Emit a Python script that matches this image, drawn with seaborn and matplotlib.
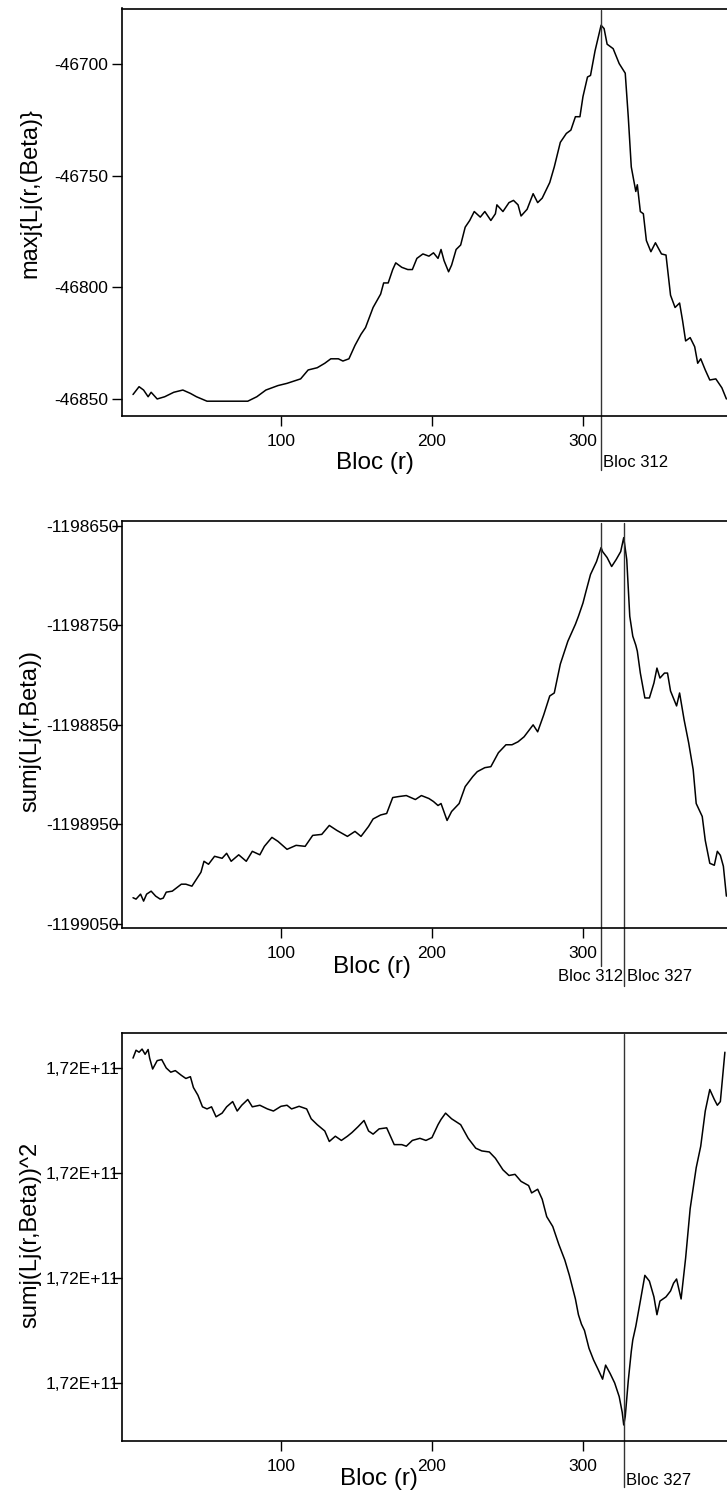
import numpy as np
import pandas as pd
import seaborn as sns
import matplotlib
matplotlib.use("Agg")
import matplotlib.pyplot as plt
from matplotlib.ticker import FuncFormatter
import matplotlib.transforms as mtransforms

# ---------------- data ----------------
r_max = [2, 6, 9, 12, 14, 18, 23, 29, 35, 40, 44, 51, 78, 84, 90, 98, 104, 113, 118, 124,
         129, 133, 138, 141, 145, 149, 153, 156, 161, 166, 168, 171, 174, 176, 180, 184, 187, 190, 194, 198,
         201, 204, 206, 208, 211, 213, 216, 219, 222, 225, 228, 232, 235, 239, 242, 243, 247, 251, 254, 257,
         259, 263, 267, 270, 273, 278, 281, 285, 289, 292, 295, 298, 300, 303, 305, 308, 312, 314, 316, 320,
         324, 328, 330, 332, 335, 336, 338, 340, 342, 345, 348, 352, 355, 358, 361, 364, 366, 368, 371, 374,
         376, 378, 381, 384, 388, 390, 392, 395]
max_lj = [-46848, -46844.5, -46846, -46849, -46847, -46850, -46849, -46847, -46846, -46847.5,
          -46849, -46851, -46851, -46849, -46846, -46844, -46843, -46841, -46837, -46836,
          -46834, -46832, -46832, -46833, -46832, -46826, -46821, -46818, -46809, -46803,
          -46798, -46798, -46792, -46789, -46791, -46792, -46792, -46787, -46785, -46786,
          -46784.5, -46787, -46783, -46788, -46793, -46790, -46783, -46781, -46773, -46770,
          -46766, -46768.5, -46766, -46770, -46767, -46763, -46766, -46762, -46761, -46763,
          -46768, -46765, -46758, -46762, -46760, -46753, -46746, -46735, -46731, -46729.5,
          -46723.5, -46723.5, -46714.5, -46705.7, -46705, -46694, -46682.5, -46684, -46691, -46693,
          -46699.7, -46704, -46723.5, -46746, -46757, -46754, -46766, -46767, -46779, -46784,
          -46780, -46785, -46785.5, -46803.5, -46809, -46807, -46815, -46824, -46822.5, -46826.6,
          -46834, -46832, -46837, -46841.5, -46841, -46843, -46845, -46850]

r_sum = [2, 4, 7, 9, 11, 14, 17, 20, 22, 24, 28, 31, 34, 37, 41, 44, 47, 49, 52, 56,
         61, 64, 67, 72, 77, 81, 86, 89, 94, 98, 104, 110, 116, 121, 127, 132, 137, 144, 149, 153,
         158, 161, 166, 170, 174, 178, 183, 189, 193, 198, 201, 204, 206, 210, 213, 218, 222, 227, 230, 235,
         239, 244, 249, 253, 257, 261, 267, 270, 274, 278, 281, 285, 290, 295, 297, 300, 302, 305, 309, 312,
         313, 316, 319, 322, 325, 327, 329, 331, 333, 335, 336, 338, 341, 344, 347, 349, 351, 354, 356, 358,
         362, 364, 367, 370, 373, 375, 379, 381, 384, 387, 389, 391, 393, 395]
sum_lj = [-1199023.6, -1199025, -1199020, -1199027, -1199020, -1199017, -1199022, -1199025, -1199024, -1199018,
          -1199017, -1199013.5, -1199010, -1199010, -1199012, -1199005, -1198998, -1198987, -1198990, -1198982,
          -1198984, -1198979, -1198987, -1198980.5, -1198987, -1198977, -1198980.5, -1198972, -1198963, -1198967,
          -1198975, -1198971, -1198972, -1198961, -1198960, -1198951, -1198956, -1198962, -1198957, -1198962,
          -1198952, -1198944.5, -1198940.5, -1198939, -1198923, -1198922, -1198921, -1198925, -1198921, -1198924,
          -1198927, -1198931, -1198929, -1198946, -1198937, -1198929, -1198912, -1198902, -1198897, -1198893,
          -1198892, -1198878, -1198870, -1198870, -1198867, -1198862, -1198850, -1198857, -1198840, -1198821,
          -1198818, -1198789, -1198766, -1198749, -1198741, -1198727.7, -1198716, -1198699, -1198686, -1198672,
          -1198676, -1198682, -1198691, -1198684, -1198676, -1198662, -1198684, -1198741, -1198761, -1198770,
          -1198776, -1198798, -1198823, -1198823, -1198808, -1198793, -1198803, -1198798, -1198798, -1198816,
          -1198831, -1198818, -1198845, -1198868, -1198895, -1198929, -1198942, -1198966, -1198989, -1198991,
          -1198977, -1198981, -1198992, -1199022]

r_sq = [2, 4, 6, 8, 10, 12, 13, 15, 18, 21, 24, 27, 30, 34, 37, 40, 42, 45, 48, 51,
        54, 57, 61, 64, 68, 71, 74, 78, 81, 86, 91, 95, 100, 104, 107, 112, 117, 120, 124, 129,
        132, 136, 140, 144, 147, 151, 155, 158, 161, 165, 170, 175, 180, 183, 187, 192, 196, 200, 204, 206,
        209, 213, 219, 224, 229, 233, 238, 242, 247, 251, 255, 259, 264, 266, 270, 273, 276, 280, 284, 288,
        291, 295, 297, 299, 301, 304, 307, 310, 313, 315, 318, 321, 324, 326, 327, 328, 330, 332, 333, 335,
        338, 341, 344, 347, 349, 351, 355, 358, 360, 362, 365, 368, 371, 375, 378, 381, 384, 387, 389, 391,
        394]
sum_sq = [172000409400, 172000416900, 172000415000, 172000418000, 172000413000, 172000417600, 172000409400, 172000399000, 172000407000, 172000408000,
          172000400000, 172000396000, 172000397500, 172000393000, 172000390000, 172000391700, 172000381400, 172000374000, 172000363000, 172000361000,
          172000363000, 172000353500, 172000357000, 172000363000, 172000368000, 172000359000, 172000364500, 172000370000, 172000363000, 172000364500,
          172000361000, 172000359000, 172000363500, 172000364500, 172000361000, 172000363500, 172000361000, 172000351600, 172000346000, 172000340000,
          172000330000, 172000335000, 172000331000, 172000335000, 172000338500, 172000344000, 172000350000, 172000340000, 172000337000, 172000342000,
          172000343000, 172000327000, 172000327000, 172000325500, 172000331000, 172000333000, 172000331000, 172000333700, 172000346000, 172000351000,
          172000357000, 172000351600, 172000346000, 172000333000, 172000323600, 172000321000, 172000320000, 172000314000, 172000303000, 172000297600,
          172000298700, 172000292000, 172000288000, 172000281000, 172000284500, 172000275000, 172000258400, 172000249000, 172000232000, 172000217000,
          172000202500, 172000180000, 172000165000, 172000156000, 172000150000, 172000133000, 172000122000, 172000113000, 172000103600, 172000117000,
          172000109000, 172000100000, 172000087000, 172000072000, 172000060000, 172000068000, 172000102000, 172000130000, 172000141000, 172000154000,
          172000178000, 172000202500, 172000197000, 172000182000, 172000165000, 172000178000, 172000182000, 172000187600, 172000195000, 172000199000,
          172000180000, 172000219000, 172000266000, 172000305000, 172000325500, 172000359000, 172000379500, 172000370000, 172000364500, 172000368000,
          172000415000]

x_ticks = [100, 200, 300]
yticks_max = [-46700, -46750, -46800, -46850]
yticks_sum = [-1198650, -1198750, -1198850, -1198950, -1199050]
yticks_sq = [172000400000, 172000300000, 172000200000, 172000100000]

ylabel_max = "maxj{Lj(r,(Beta)}"
ylabel_sum = "sumj(Lj(r,Beta))"
ylabel_sq = "sumj(Lj(r,Beta))^2"
xlabel = "Bloc (r)"

# ---------------- style ----------------
sns.set_theme(style="white")
plt.rcParams["font.family"] = ["Liberation Sans", "DejaVu Sans"]

W, H = 727, 1493
fig = plt.figure(figsize=(W / 100, H / 100), dpi=100)

def px_axes(top, bottom, left=122, right=727):
    return [left / W, 1 - bottom / H, (right - left) / W, (bottom - top) / H]

def fmt_int(v, pos):
    return f"{v:.0f}"

def fmt_sci(v, pos):
    return f"{v:.2E}".replace(".", ",")

panels = [
    dict(rect=px_axes(8.5, 415.7), x=r_max, y=max_lj, yticks=yticks_max, ylim=(-46857.5, -46675),
         ylabel=ylabel_max, fmt=fmt_int, ypad=3, ylab_y=0.547, xlab=(0.418, -0.115)),
    dict(rect=px_axes(520.7, 928), x=r_sum, y=sum_lj, yticks=yticks_sum, ylim=(-1199054, -1198645),
         ylabel=ylabel_sum, fmt=fmt_int, ypad=-5, ylab_y=0.484, xlab=(0.413, -0.096)),
    dict(rect=px_axes(1032.7, 1440.5), x=r_sq, y=sum_sq, yticks=yticks_sq, ylim=(172000045200, 172000433600),
         ylabel=ylabel_sq, fmt=fmt_sci, ypad=-5, ylab_y=0.505, xlab=(0.425, -0.0944)),
]

axes = []
for p in panels:
    ax = fig.add_axes(p["rect"])
    sns.lineplot(x=p["x"], y=p["y"], ax=ax, color="black", linewidth=1.1, estimator=None, sort=False)
    ax.set_xlim(-5.3, 395.4)
    ax.set_ylim(*p["ylim"])
    ax.set_xticks(x_ticks)
    ax.set_yticks(p["yticks"])
    ax.yaxis.set_major_formatter(FuncFormatter(p["fmt"]))
    ax.xaxis.set_major_formatter(FuncFormatter(fmt_int))
    ax.tick_params(axis="both", which="major", direction="out", length=7.2, width=1.0,
                   color="black", labelcolor="black", labelsize=12.5, bottom=True, left=True)
    ax.tick_params(axis="x", pad=6)
    ax.tick_params(axis="y", pad=p["ypad"])
    for s in ["top", "left", "bottom"]:
        ax.spines[s].set_visible(True)
        ax.spines[s].set_color("black")
        ax.spines[s].set_linewidth(1.2)
    ax.spines["right"].set_visible(False)
    ax.set_ylabel(p["ylabel"], fontsize=17, color="black", va="center")
    ax.yaxis.set_label_coords(-0.152, p["ylab_y"])
    ax.set_xlabel(xlabel, fontsize=17.5, color="black", va="center")
    ax.xaxis.set_label_coords(*p["xlab"])
    ax.set_facecolor("white")
    axes.append(ax)

vl = dict(color="#333333", linewidth=1.0, clip_on=False)
ax1, ax2, ax3 = axes
tr1 = mtransforms.blended_transform_factory(ax1.transData, ax1.transAxes)
tr2 = mtransforms.blended_transform_factory(ax2.transData, ax2.transAxes)
tr3 = mtransforms.blended_transform_factory(ax3.transData, ax3.transAxes)

ax1.axvline(312, ymin=-0.1334, ymax=0.9963, **vl)
ax1.text(313.6, -0.1154, "Bloc 312", transform=tr1, ha="left", va="center", fontsize=12, color="black")

ax2.axvline(312, ymin=-0.0933, ymax=0.9936, **vl)
ax2.axvline(327, ymin=-0.1436, ymax=0.9936, **vl)
ax2.text(326.4, -0.118, "Bloc 312", transform=tr2, ha="right", va="center", fontsize=12, color="black")
ax2.text(329.0, -0.118, "Bloc 327", transform=tr2, ha="left", va="center", fontsize=12, color="black")

ax3.axvline(327, ymin=-0.1148, ymax=0.998, **vl)
ax3.text(328.4, -0.0986, "Bloc 327", transform=tr3, ha="left", va="center", fontsize=12, color="black")

fig.savefig("out.png", dpi=100, facecolor="white")
